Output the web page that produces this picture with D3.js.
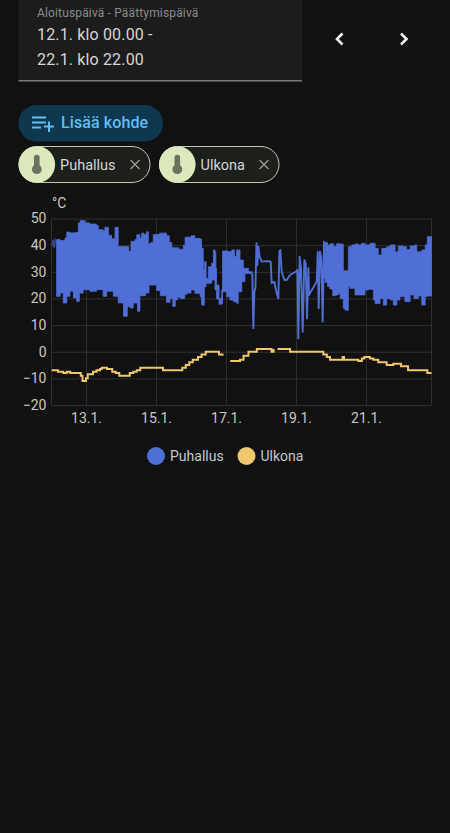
<!DOCTYPE html>
<html><head><meta charset="utf-8">
<script src="https://cdn.jsdelivr.net/npm/d3@7"></script>
<style>
html,body{margin:0;padding:0;background:#111111;overflow:hidden}
svg{display:block}
text{font-family:Roboto,sans-serif}
</style></head><body>
<svg id="c" width="450" height="833"></svg>
<script>
const seriesNames = ["Puhallus","Ulkona"];
const seriesColors = ["#4f6fd6","#f0c66f"];
const yTicks = [50,40,30,20,10,0,-10,-20];
const xTickDays = [13,15,17,19,21];
const xTickLabels = ["13.1.","15.1.","17.1.","19.1.","21.1."];

// Puhallus: short faint start, dense swing band, single trace, dense swing band
const startDays = [12.03,12.06,12.09,12.12,12.15];
const startVals = [40,42,39,42,41];

const leftHighDays = [12.16,12.26,12.40,12.45,12.54,12.69,12.78,12.83,12.97,13.11,13.30,13.35,13.49,13.54,13.64,13.73,13.83,13.90,13.92,14.18,14.22,14.285,14.40,14.45,14.54,14.59,14.66,14.73,14.78,14.85,14.92,15.10,15.30,15.38,15.45,15.64,15.78,15.83,16.00,16.11,16.26,16.30,16.35,16.38,16.43,16.495,16.59,16.64,16.685,16.71,16.73,16.80,16.876,16.90,17.07,17.16,17.24,17.30,17.40,17.495,17.64,17.75];
const leftHighVals = [42.1,41.7,42.7,44.9,44.6,44.8,48.3,49.2,48.3,47.9,47.4,45.8,45.4,46.7,43.7,42.4,46.7,46.7,39.5,39.5,37.7,41.4,42.1,43.9,42.7,44.5,44,45,40.5,41,44,44.5,43.5,41,39,38.5,40,43,43.5,42.5,42.3,38.8,30.7,33.8,27.5,31.9,33.2,38.2,37.5,31.3,25,20,18.1,37.8,37.5,38.2,35.7,38.2,34.4,31.3,30,29.4];
const leftLowDays = [12.16,12.26,12.35,12.45,12.54,12.64,12.73,12.81,12.92,13.11,13.30,13.40,13.49,13.59,13.78,13.92,14.07,14.18,14.26,14.35,14.47,14.54,14.70,14.80,14.88,15.02,15.12,15.30,15.40,15.48,15.55,15.62,15.69,15.82,15.88,16.00,16.11,16.26,16.30,16.38,16.43,16.59,16.685,16.73,16.80,16.876,16.90,17.02,17.11,17.21,17.30,17.35,17.45,17.54,17.685,17.75];
const leftLowVals = [22,20.8,22,18.3,20.8,22.7,20.2,18.9,22,23.3,22.7,23.3,23.3,20.8,22.7,20.8,18.3,13.3,17,16.4,18.3,15.2,21,22,25,25,23,21,18.5,20,17,19.5,20.5,20,21.5,22,23.2,21.9,20.6,17.5,24.4,25.7,26.9,23.2,19.8,17.8,23.2,22.5,20.6,19.4,18.8,18.2,22.5,26.3,29.4,29.4];

const traceDays = [17.75,17.78,17.81,17.84,17.87,17.895,17.924,17.96,18.02,18.21,18.276,18.304,18.38,18.447,18.495,18.524,18.552,18.59,18.666,18.733,18.828,18.99,19.038,19.066,19.104,19.142,19.19,19.238,19.276,19.314,19.352,19.371,19.59,19.62,19.647,19.685,19.723,19.761,19.80,19.83];
const traceVals = [29.4,8.8,22.5,23.8,40.7,32.5,39.4,35.7,33.8,34,33.8,25.7,26.3,21.9,20,37.5,38.2,30,26.9,26.9,28.8,30,30.7,5,35.7,31.3,7.5,34.4,33.2,12.5,31.3,21.3,26.3,37.5,16.3,37.5,35,11.3,41.3,27.5];

const rightHighDays = [19.83,19.90,19.97,20.08,20.16,20.26,20.33,20.35,20.495,20.59,20.685,20.78,20.875,20.97,21.11,21.26,21.35,21.45,21.59,21.69,21.83,21.92,22.07,22.16,22.26,22.40,22.45,22.59,22.69,22.75,22.81,22.87];
const rightHighVals = [41,40,40.5,39.5,40.5,40.4,40.4,30.4,39.4,40.1,40.4,40.1,40.7,40.1,40.7,38.8,36.3,38.8,39.4,40.1,37.5,39.7,39.4,38.4,39.7,40.1,37.5,38.2,40.1,43.2,43.2,39.4];
const rightLowDays = [19.83,19.90,19.97,20.05,20.12,20.21,20.26,20.35,20.40,20.495,20.54,20.685,20.78,20.97,21.07,21.21,21.26,21.40,21.495,21.59,21.69,21.78,21.88,21.97,22.11,22.26,22.37,22.495,22.59,22.69,22.75,22.87];
const rightLowVals = [27.5,26,24.4,23.5,21,21.3,21.9,20,16.3,15.6,24.4,23.8,21.3,21.3,23.2,23.4,19.4,18.1,20,17.5,20,19.4,17.5,19.4,20.7,18.8,21.3,20,20.9,17.5,20.7,20.9];

const tempDays = [12.02,12.20,12.35,12.45,12.55,12.75,12.85,12.90,13.00,13.05,13.20,13.30,13.40,13.45,13.60,13.75,13.85,13.95,14.20,14.25,14.35,14.45,14.55,15.15,15.20,15.65,15.75,15.85,15.95,16.05,16.20,16.30,16.42,16.75,16.80,16.90,16.94,17.12,17.35,17.40,17.50,17.64,17.88,18.21,18.30,18.36,18.38,18.47,18.78,18.83,19.69,19.78,19.88,19.97,20.30,20.33,20.37,20.78,20.88,20.95,21.11,21.21,21.35,21.59,21.78,22.00,22.20,22.69,22.75,22.87];
const tempVals = [-7,-7.5,-8,-7.5,-8,-8,-9,-11,-10,-8.5,-7.5,-7,-6.5,-6,-6.5,-7.5,-8,-9,-9,-8,-7.5,-7,-6,-6,-7,-7,-6,-5,-4,-3,-2,-1,0,0,-1,-1.5,null,-3.5,-3.5,-3,-1.5,0,1,1,0,1,null,1,1,0,0,-1,-2,-3,-3,-2,-3,-3.5,-2.5,-2,-2.5,-3,-4,-5,-4.5,-5.5,-7,-7,-8,-8];

const svg = d3.select("#c");
const uiText = "#d6d6d6";

// header card
svg.append("rect").attr("x",18.5).attr("y",-5).attr("width",283.5).attr("height",85).attr("fill","#1c1c1c");
svg.append("rect").attr("x",18.5).attr("y",80).attr("width",283.5).attr("height",1.5).attr("fill","#7a7a7a");
svg.append("text").attr("x",37).attr("y",17).attr("font-size",12).attr("letter-spacing",0.15).attr("fill","#8a8a8a").text("Aloituspäivä - Päättymispäivä");
svg.append("text").attr("x",37).attr("y",40).attr("font-size",16).attr("letter-spacing",0.15).attr("fill",uiText).text("12.1. klo 00.00 -");
svg.append("text").attr("x",37).attr("y",65).attr("font-size",16).attr("letter-spacing",0.15).attr("fill",uiText).text("22.1. klo 22.00");
svg.append("path").attr("d","M342.5 33.5L337 39L342.5 44.5").attr("fill","none").attr("stroke","#f0f0f0").attr("stroke-width",2.6);
svg.append("path").attr("d","M401 33.5L406.5 39L401 44.5").attr("fill","none").attr("stroke","#f0f0f0").attr("stroke-width",2.6);

// add button
svg.append("rect").attr("x",18.5).attr("y",105).attr("width",144.5).attr("height",36.5).attr("rx",18.2).attr("fill","#0e3850");
svg.append("path").attr("d","M32 117.5H46M32 122.5H46M32 127.5H41M44 126.5H54M49 121.5V132").attr("fill","none").attr("stroke","#63bdf0").attr("stroke-width",2);
svg.append("text").attr("x",61).attr("y",128).attr("font-size",16).attr("font-weight",500).attr("letter-spacing",0.1).attr("fill","#63bdf0").text("Lisää kohde");

// chips
const chips = [{x:18.5,w:131,tx:60,cx:135},{x:159,w:119.5,tx:200.5,cx:264}];
chips.forEach((c,i)=>{
  const m=c.x+18.3;
  svg.append("rect").attr("x",c.x+.5).attr("y",146.5).attr("width",c.w).attr("height",36).attr("rx",18).attr("fill","#1d1f1b").attr("stroke","#c3caa8").attr("stroke-width",1);
  svg.append("circle").attr("cx",m).attr("cy",164.5).attr("r",18.3).attr("fill","#dbe9bd");
  svg.append("path").attr("d",`M${m-2.8} 157.5a2.8 2.8 0 0 1 5.6 0V165.2a4.9 4.9 0 1 1 -5.6 0Z`).attr("fill","#6b7360");
  svg.append("text").attr("x",c.tx).attr("y",170).attr("font-size",14.5).attr("fill",uiText).text(seriesNames[i]);
  svg.append("path").attr("d",`M${c.cx-4.5} 160L${c.cx+4.5} 169M${c.cx+4.5} 160L${c.cx-4.5} 169`).attr("stroke","#9a9a9a").attr("stroke-width",1.3);
});

// chart
const plotL=51.5,plotR=431.5,plotT=218.5,plotB=405;
const x = d3.scaleLinear().domain([12.014,22.87]).range([plotL,plotR]);
const y = d3.scaleLinear().domain([-20,50]).range([plotB,plotT]);
const gridCol="#2f2f2f", tickCol="#c8c8c8";

const gy = svg.append("g").attr("transform",`translate(${plotL},0)`)
  .call(d3.axisLeft(y).tickValues(yTicks).tickSize(-(plotR-plotL)).tickPadding(5));
const gx = svg.append("g").attr("transform",`translate(0,${plotB})`)
  .call(d3.axisBottom(x).tickValues(xTickDays).tickFormat((d,i)=>xTickLabels[i]).tickSize(-(plotB-plotT)).tickPadding(14));
[gy,gx].forEach(g=>{
  g.selectAll(".domain").remove();
  g.selectAll("line").attr("stroke",gridCol).attr("stroke-width",1);
  g.selectAll("text").attr("fill",tickCol).attr("font-size",14).attr("font-family","Roboto,sans-serif");
});
gx.selectAll("text").attr("dy","0.32em");
svg.append("line").attr("x1",plotL).attr("x2",plotL).attr("y1",plotT).attr("y2",plotB).attr("stroke",gridCol);
svg.append("line").attr("x1",plotR).attr("x2",plotR).attr("y1",plotT).attr("y2",plotB).attr("stroke",gridCol);
svg.append("text").attr("x",52).attr("y",208).attr("font-size",14).attr("fill",tickCol).text("°C");

const pairs = (ds,vs)=>ds.map((d,i)=>[d,vs[i]]);
const stepped = d3.line().x(d=>x(d[0])).y(d=>y(d[1])).curve(d3.curveStepAfter);
const straight = d3.line().x(d=>x(d[0])).y(d=>y(d[1]));

// Puhallus
function band(hd,hv,ld,lv){
  const up = stepped(pairs(hd,hv));
  const down = stepped(pairs(ld,lv).reverse());
  svg.append("path").attr("d",up+"L"+down.slice(1)+"Z")
    .attr("fill",seriesColors[0]).attr("stroke",seriesColors[0]).attr("stroke-width",0.8).attr("stroke-linejoin","round");
}
band(leftHighDays,leftHighVals,leftLowDays,leftLowVals);
band(rightHighDays,rightHighVals,rightLowDays,rightLowVals);
svg.append("path").attr("d",straight(pairs(traceDays,traceVals))).attr("fill","none")
  .attr("stroke",seriesColors[0]).attr("stroke-width",1.9).attr("stroke-linejoin","round");
svg.append("path").attr("d",straight(pairs(startDays,startVals))).attr("fill","none")
  .attr("stroke",seriesColors[0]).attr("stroke-opacity",0.55).attr("stroke-width",1.6);

// Ulkona stepped line
const tempLine = d3.line().defined(d=>d[1]!==null).x(d=>x(d[0])).y(d=>y(d[1])).curve(d3.curveStepAfter);
svg.append("path").attr("d",tempLine(pairs(tempDays,tempVals)))
  .attr("fill","none").attr("stroke",seriesColors[1]).attr("stroke-width",2);

// legend
const legendX=[156,246.5];
seriesNames.forEach((n,i)=>{
  svg.append("circle").attr("cx",legendX[i]).attr("cy",456).attr("r",9).attr("fill",seriesColors[i]);
  svg.append("text").attr("x",legendX[i]+14).attr("y",461).attr("font-size",14).attr("fill",tickCol).text(n);
});
</script></body></html>
